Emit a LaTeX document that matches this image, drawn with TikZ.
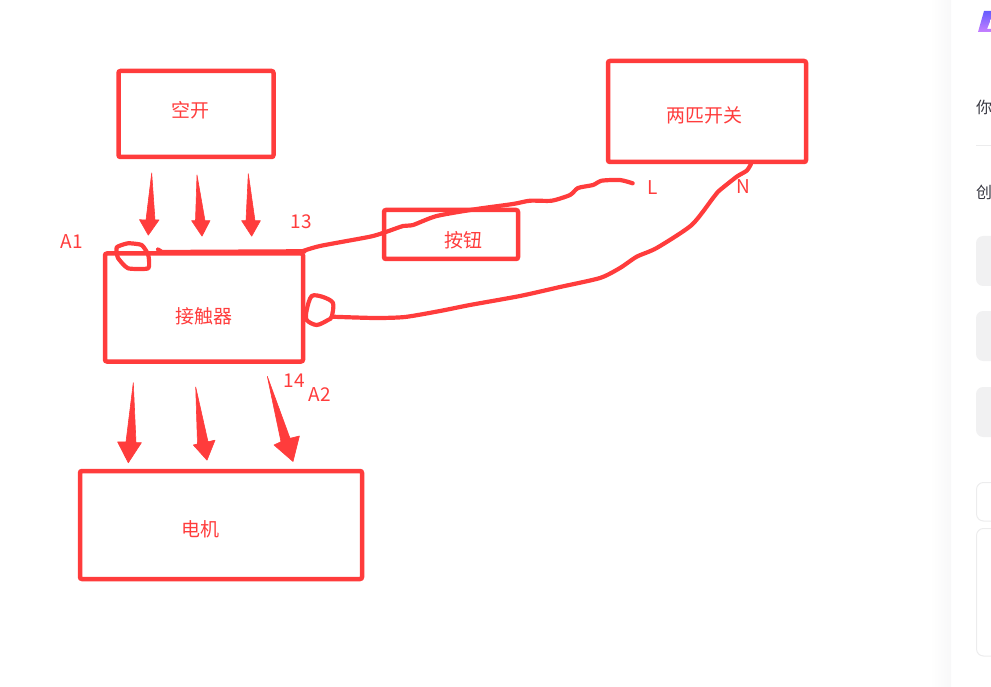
\documentclass[tikz,border=0pt]{standalone}
\usepackage{fontspec}
\setmainfont{Noto Sans CJK SC}
\newlength{\du}
\setlength{\du}{1pt}
\definecolor{dialinecolor}{rgb}{1.000000, 0.235000, 0.235000}
\definecolor{panelgray}{rgb}{0.945000, 0.945000, 0.950000}
\definecolor{paneledge}{rgb}{0.925000, 0.925000, 0.930000}
\definecolor{paneltext}{rgb}{0.220000, 0.220000, 0.260000}
\definecolor{logotop}{rgb}{0.400000, 0.360000, 1.000000}
\definecolor{logobottom}{rgb}{0.780000, 0.500000, 1.000000}
\tikzset{
  sketchbox/.style={draw=dialinecolor,line width=4.5\du,rounded corners=2\du,inner sep=0pt},
  sketchtext/.style={text=dialinecolor,font=\fontsize{19}{19}\selectfont,inner sep=0pt},
  paneltext/.style={anchor=west,text=paneltext,font=\fontsize{16}{16}\selectfont,inner sep=0pt},
  wire/.style={draw=dialinecolor,line width=4.2\du,line cap=round,line join=round},
  handarrow/.style={fill=dialinecolor,draw=dialinecolor,line width=0.6\du,line join=round},
}
\begin{document}
\begin{tikzpicture}[x=\du,y=-\du]
\useasboundingbox (0,0) rectangle (991,687);
% side panel
\shade[left color=white,right color=panelgray!50] (930,0) rectangle (951,687);
\shade[top color=logotop,bottom color=logobottom] (978,32) -- (984,11) -- (991,11) -- (991,19) -- (987,29) -- (991,29) -- (991,32) -- cycle;
\node[paneltext] (hello) at (976,107) {你};
\node[paneltext] (create) at (976,192) {创};
\draw[paneledge,line width=1\du] (976,145.5) -- (991,145.5);
\fill[panelgray,rounded corners=7\du] (976,236) rectangle (1010,286);
\fill[panelgray,rounded corners=7\du] (976,311) rectangle (1010,361);
\fill[panelgray,rounded corners=7\du] (976,387) rectangle (1010,437);
\draw[paneledge,line width=1\du,rounded corners=7\du] (976.5,482.5) rectangle (1010,521);
\draw[paneledge,line width=1\du,rounded corners=7\du] (976.5,528.5) rectangle (1010,656);
% boxes
\node[sketchbox,minimum width=155\du,minimum height=86\du] (breaker) at (196,114) {};
\node[sketchbox,minimum width=198\du,minimum height=108\du] (contactor) at (204,307.5) {};
\node[sketchbox,minimum width=282\du,minimum height=108\du] (motor) at (221,525) {};
\node[sketchbox,minimum width=198\du,minimum height=101\du] (switch) at (707,111.5) {};
\node[sketchbox,minimum width=134\du,minimum height=49\du] (button) at (451,234.5) {};
\node[sketchtext] (breakertext) at (190,110) {空开};
\node[sketchtext] (contactortext) at (203.5,316) {接触器};
\node[sketchtext] (motortext) at (200,529) {电机};
\node[sketchtext] (switchtext) at (704.5,115) {两匹开关};
\node[sketchtext] (buttontext) at (463,240) {按钮};
\node[sketchtext] (aone) at (72,242) {A1};
\node[sketchtext] (thirteen) at (301.5,222) {13};
\node[sketchtext] (fourteen) at (294,381) {14};
\node[sketchtext] (atwo) at (320,395) {A2};
\node[sketchtext] (linelabel) at (652.5,188) {L};
\node[sketchtext] (neutrallabel) at (743.5,187) {N};
% arrows
\fill[handarrow] (151.7,173) -- (155,220) -- (159,220) -- (148.3,235.2) -- (139.5,219.7) -- (146,220) -- cycle;
\fill[handarrow] (197,175) -- (205,220.7) -- (210,220.7) -- (202,236.2) -- (191.6,220.7) -- (195.5,220.7) -- cycle;
\fill[handarrow] (248.3,173.7) -- (255,220.7) -- (260.4,220.7) -- (251.7,236.2) -- (241.6,220.7) -- (246,220.7) -- cycle;
\fill[handarrow] (133.3,382.7) -- (136,442.7) -- (141.4,442.7) -- (128.3,462.8) -- (117.6,441.9) -- (126,441.9) -- cycle;
\fill[handarrow] (195.7,387) -- (208,441.7) -- (215,440.2) -- (207,460.2) -- (193.3,445) -- (197.5,444) -- cycle;
\fill[handarrow] (267.3,376.3) -- (290,438.3) -- (299.4,436) -- (293,461.5) -- (274,445) -- (281,441.7) -- cycle;
% wires
\coordinate (tap) at (158,249.5);
\coordinate (linefree) at (632.7,183.3);
\coordinate (neutralend) at (751,164);
\coordinate (loopjoin) at (331.7,316.7);
\draw[wire] (tap) -- (162,252) -- (contactor.north east) -- (300,252) plot[smooth,tension=0.4] coordinates {(300,252) (320,246) (370,236.7) (386.7,231.7) (403,226) (413,225) (436.7,216) (476.7,209) (513,204) (530,200.7) (551.7,200.7) (570,195) (578,188) (593,185) (601.7,180.7) (620,180) (linefree)};
\draw[wire] plot[smooth,tension=0.4] coordinates {(neutralend) (746.7,170.7) (736.7,176.7) (718,191.7) (713,198) (691.7,225) (656.7,248) (636.7,256.7) (620,268) (600,278) (560,287) (520,296) (470,305) (440,311) (405,317) (375,318) (loopjoin)};
\draw[wire] plot[smooth cycle,tension=0.5] coordinates {(loopjoin) (333,303) (323,297) (311.7,296) (306.7,310) (306.7,320) (316.7,325) (328,320)};
\draw[wire] plot[smooth cycle,tension=0.3] coordinates {(148.3,268.3) (148.3,255) (141.7,245) (128,243.3) (116.7,247.3) (118,258) (128,268.3)};
\end{tikzpicture}
\end{document}
